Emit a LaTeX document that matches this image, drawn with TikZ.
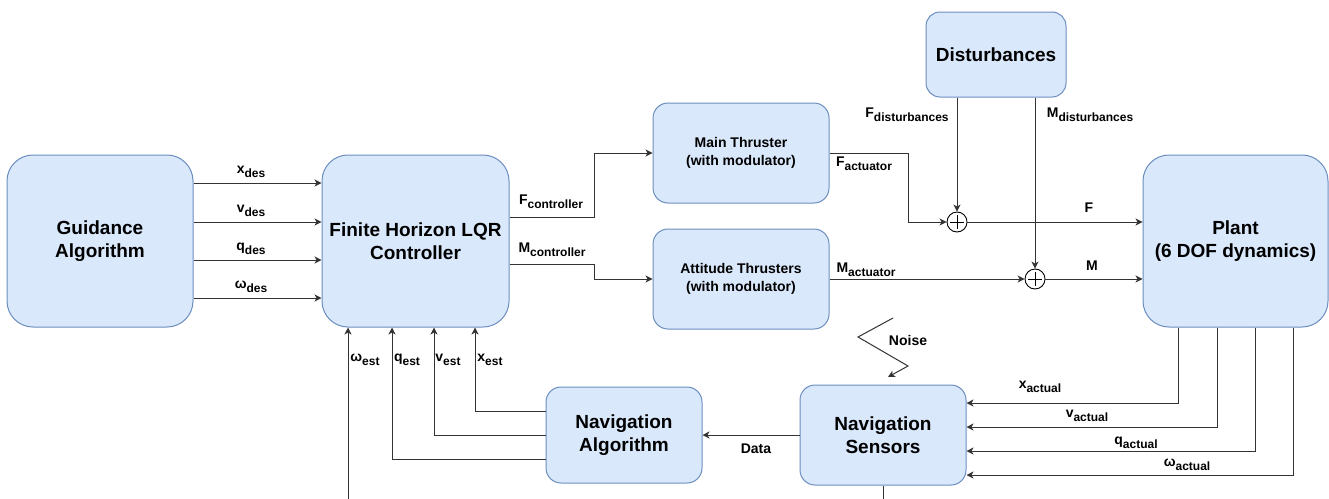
\documentclass[tikz,border=0pt]{standalone}
\usepackage{fontspec}
\setmainfont{Liberation Sans}
\usetikzlibrary{arrows.meta}
\definecolor{boxfill}{HTML}{DAE8FC}
\definecolor{boxline}{HTML}{6C8EBF}
\definecolor{wire}{HTML}{333333}
\newcommand{\sbs}[1]{\raisebox{-0.3em}{\fontsize{12}{12}\selectfont #1}}
\begin{document}
\begin{tikzpicture}[x=1pt,y=-1pt,
  blk/.style={draw=boxline, fill=boxfill, line width=1pt, rounded corners=26pt,
    inner sep=0pt, align=center, font=\bfseries\fontsize{19}{23}\selectfont},
  sblk/.style={blk, rounded corners=15pt, font=\bfseries\fontsize{14}{18}\selectfont},
  lbl/.style={font=\bfseries\fontsize{14}{16}\selectfont, inner sep=0pt},
  wirel/.style={draw=wire, line width=1pt},
  arr/.style={wirel, -{Stealth[length=7pt,width=7pt,inset=2pt]}},
  sumj/.style={circle, draw=black, fill=white, line width=0.9pt, minimum size=20pt, inner sep=0pt,
    path picture={\draw[line width=0.8pt] ([xshift=-7pt]path picture bounding box.center) -- ([xshift=7pt]path picture bounding box.center);
                  \draw[line width=0.8pt] ([yshift=-7pt]path picture bounding box.center) -- ([yshift=7pt]path picture bounding box.center);}}
]
\useasboundingbox (0,0) rectangle (1329,498);
\clip (0,0) rectangle (1329,498);

% blocks
\node[blk, minimum width=186pt, minimum height=172pt] (guid) at (100,241) {Guidance\\Algorithm};
\node[blk, minimum width=187pt, minimum height=172pt] (ctrl) at (415.5,241) {Finite Horizon LQR\\Controller};
\node[sblk, minimum width=176pt, minimum height=100pt] (main) at (741,153) {Main Thruster\\(with modulator)};
\node[sblk, minimum width=176pt, minimum height=100pt] (att) at (741,279) {Attitude Thrusters\\(with modulator)};
\node[blk, rounded corners=14pt, minimum width=140pt, minimum height=85pt] (dist) at (996,54.5) {Disturbances};
\node[blk, minimum width=185pt, minimum height=172pt] (plant) at (1235.5,241) {Plant\\(6 DOF dynamics)};
\node[blk, rounded corners=15pt, minimum width=166pt, minimum height=100pt] (ns) at (883,435) {Navigation\\Sensors};
\node[blk, rounded corners=15pt, minimum width=156pt, minimum height=96pt] (na) at (624,435) {Navigation\\Algorithm};

% summing junctions
\node[sumj] (s1) at (957,222) {};
\node[sumj] (s2) at (1035,279) {};

% guidance -> controller
\draw[arr] ([yshift=58pt]guid.east) -- ([yshift=58pt]ctrl.west);
\draw[arr] ([yshift=19pt]guid.east) -- ([yshift=19pt]ctrl.west);
\draw[arr] ([yshift=-19pt]guid.east) -- ([yshift=-19pt]ctrl.west);
\draw[arr] ([yshift=-57pt]guid.east) -- ([yshift=-57pt]ctrl.west);

% controller -> thrusters
\draw[arr] ([yshift=24pt]ctrl.east) -- ++(85,0) |- (main.west);
\draw[arr] ([yshift=-23pt]ctrl.east) -- ++(85,0) |- (att.west);

% thrusters -> sums
\draw[arr] (main.east) -- ++(79,0) |- (s1.west);
\draw[arr] (att.east) -- (s2.west);
\draw[arr] (s1 |- dist.south) -- (s1.north);
\draw[arr] (s2 |- dist.south) -- (s2.north);

% sums -> plant
\draw[arr] (s1.east) -- (plant.west |- s1);
\draw[arr] (s2.east) -- (plant.west |- s2);

% plant -> sensors
\draw[arr] ([xshift=-57.5pt]plant.south) |- ([yshift=32pt]ns.east);
\draw[arr] ([xshift=-18.5pt]plant.south) |- ([yshift=8pt]ns.east);
\draw[arr] ([xshift=19.5pt]plant.south) |- ([yshift=-16pt]ns.east);
\draw[arr] ([xshift=57.5pt]plant.south) |- ([yshift=-40pt]ns.east);

% sensors -> algorithm
\draw[arr] (ns.west) -- (na.east);

% algorithm -> controller
\draw[arr] ([yshift=24pt]na.west) -| ([xshift=59.5pt]ctrl.south);
\draw[arr] (na.west) -| ([xshift=18.5pt]ctrl.south);
\draw[arr] ([yshift=-24pt]na.west) -| ([xshift=-23.5pt]ctrl.south);
\draw[arr] (ns.south) -- ++(0,40) -| ([xshift=-67.5pt]ctrl.south);

% noise
\coordinate (n1) at (893,318);
\coordinate (n2) at (858,337);
\coordinate (n3) at (908,366);
\coordinate (n4) at (888,377);
\draw[arr] (n1) -- (n2) -- (n3) -- (n4);

% labels
\node[lbl] (lxd) at (251,172) {x\sbs{des}};
\node[lbl] (lvd) at (251,211) {v\sbs{des}};
\node[lbl] (lqd) at (251,249) {q\sbs{des}};
\node[lbl] (lwd) at (251,287) {ω\sbs{des}};
\node[lbl] (lfc) at (551,202) {F\sbs{controller}};
\node[lbl] (lmc) at (552,250) {M\sbs{controller}};
\node[lbl] (lfa) at (864,164) {F\sbs{actuator}};
\node[lbl] (lma) at (866,270) {M\sbs{actuator}};
\node[lbl] (lfd) at (907,115) {F\sbs{disturbances}};
\node[lbl] (lmd) at (1090,115) {M\sbs{disturbances}};
\node[lbl] (lF) at (1089,208) {F};
\node[lbl] (lM) at (1092,266) {M};
\node[lbl] (lxa) at (1040,387) {x\sbs{actual}};
\node[lbl] (lva) at (1087,416) {v\sbs{actual}};
\node[lbl] (lqa) at (1136,443) {q\sbs{actual}};
\node[lbl] (lwa) at (1187,465) {ω\sbs{actual}};
\node[lbl] (lwe) at (365,360) {ω\sbs{est}};
\node[lbl] (lqe) at (407,360) {q\sbs{est}};
\node[lbl] (lve) at (448,360) {v\sbs{est}};
\node[lbl] (lxe) at (490,360) {x\sbs{est}};
\node[lbl] (lnoise) at (908,340) {Noise};
\node[lbl] (ldata) at (756,449) {Data};
\end{tikzpicture}
\end{document}
